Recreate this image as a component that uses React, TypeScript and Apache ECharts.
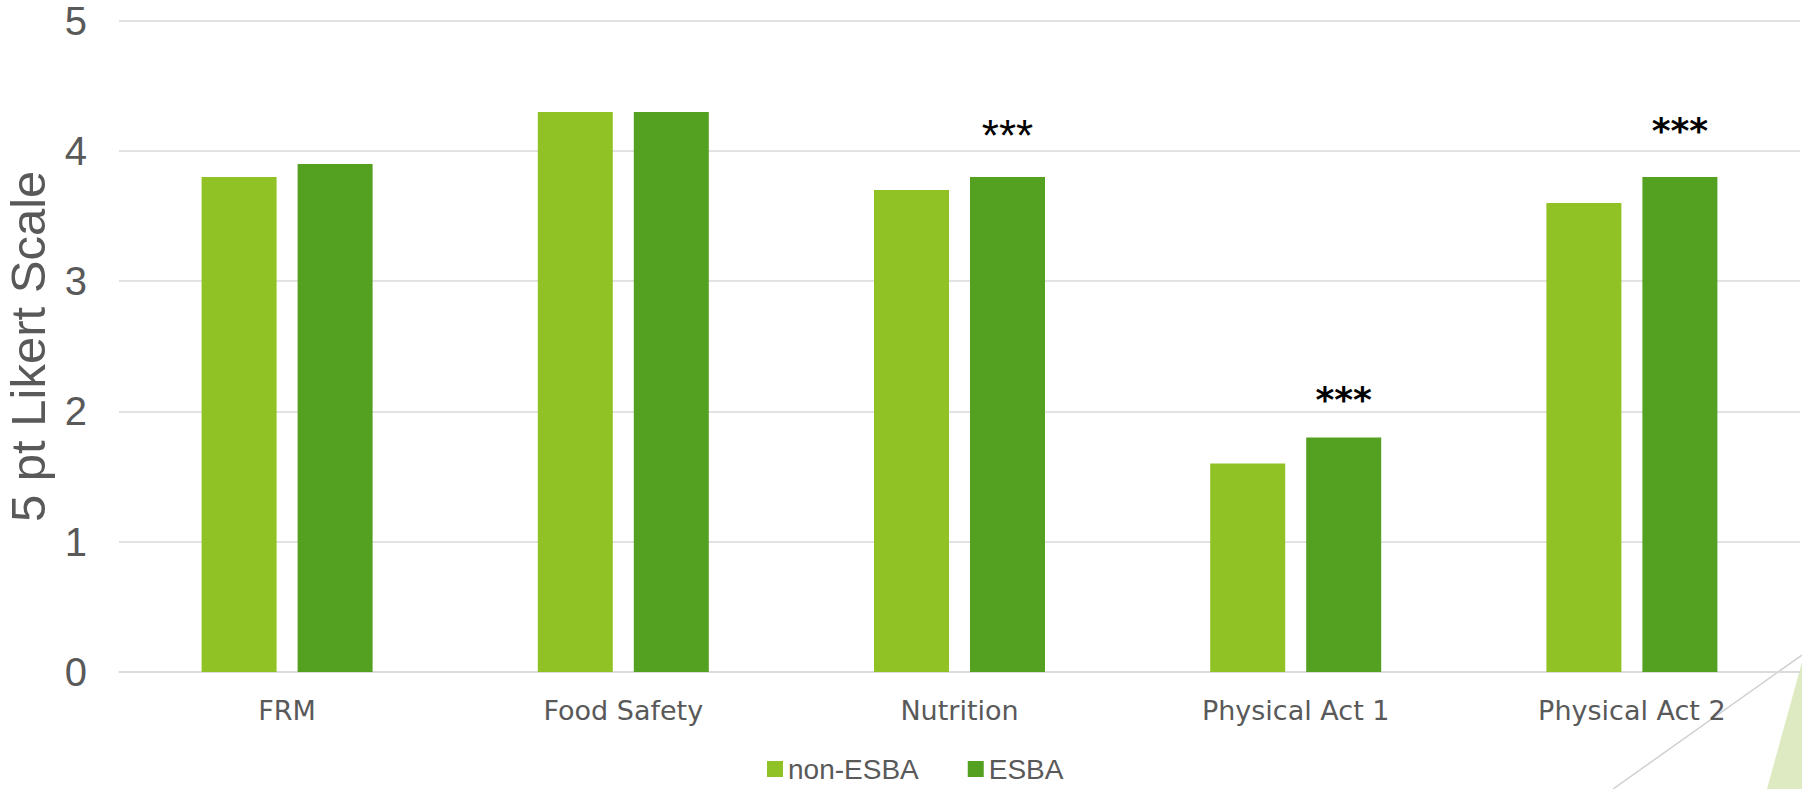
import React, { useEffect, useRef } from "react";
import * as echarts from "echarts";

const categories = ["FRM", "Food Safety", "Nutrition", "Physical Act 1", "Physical Act 2"];
const nonEsba = [3.8, 4.3, 3.7, 1.6, 3.6];
const esba = [3.9, 4.3, 3.8, 1.8, 3.8];
const significance = ["", "", "***", "***", "***"];
const yTicks = [0, 1, 2, 3, 4, 5];

export default function App() {
  const ref = useRef<HTMLDivElement>(null);
  useEffect(() => {
    if (!ref.current) return;
    const chart = echarts.init(ref.current, null, { renderer: "svg" });
    const esbaData = esba.map((v, i) => {
      const sig = significance[i];
      if (!sig) return v;
      const isNut = i === 2;
      return {
        value: v,
        label: {
          show: true,
          position: "top",
          formatter: sig,
          distance: isNut ? 20 : i === 3 ? 20 : 29,
          color: "#000000",
          fontFamily: isNut ? "Liberation Sans" : "DejaVu Sans",
          fontSize: isNut ? 44 : 36,
          fontWeight: isNut ? "normal" : "bold",
        },
      };
    });
    chart.setOption({
      animation: false,
      backgroundColor: "#ffffff",
      grid: { left: 119, right: 2, top: 20.7, bottom: 117, containLabel: false, outerBoundsMode: "none" },
      legend: {
        data: ["non-ESBA", "ESBA"],
        left: 762,
        bottom: 1,
        itemWidth: 16,
        itemHeight: 16,
        itemGap: 49,
        icon: "rect",
        textStyle: { color: "#595959", fontSize: 28, fontFamily: "Liberation Sans Narrow, Liberation Sans" },
      },
      xAxis: {
        type: "category",
        data: categories,
        axisLine: { show: true, lineStyle: { color: "#D9D9D9", width: 1.5 } },
        axisTick: { show: false },
        axisLabel: { color: "#595959", fontSize: 27, fontFamily: "DejaVu Sans", margin: 25 },
      },
      yAxis: {
        type: "value",
        min: yTicks[0],
        max: yTicks[yTicks.length - 1],
        interval: 1,
        name: "5 pt Likert Scale",
        nameLocation: "middle",
        nameGap: 67,
        nameTextStyle: { color: "#595959", fontSize: 49, fontFamily: "Liberation Sans" },
        axisLine: { show: false },
        axisTick: { show: false },
        axisLabel: { color: "#595959", fontSize: 40, fontFamily: "Liberation Sans", margin: 32 },
        splitLine: { lineStyle: { color: "#D9D9D9", width: 1.5 } },
      },
      series: [
        {
          name: "non-ESBA",
          type: "bar",
          data: nonEsba,
          barWidth: 75,
          barGap: "28%",
          itemStyle: { color: "#90C226" },
        },
        {
          name: "ESBA",
          type: "bar",
          data: esbaData,
          barWidth: 75,
          itemStyle: { color: "#54A021" },
        },
      ],
      graphic: [
        {
          type: "polygon",
          silent: true,
          shape: { points: [[1767, 789], [1802, 662], [1802, 789]] },
          style: { fill: "#DEEBC2" },
        },
        {
          type: "line",
          silent: true,
          shape: { x1: 1613, y1: 789, x2: 1802, y2: 655 },
          style: { stroke: "#D0D0D0", lineWidth: 1.5 },
        },
      ],
    });
    return () => chart.dispose();
  }, []);
  return (
    <div
      ref={ref}
      style={{ position: "fixed", left: 0, top: 0, width: 1802, height: 789 }}
    />
  );
}
